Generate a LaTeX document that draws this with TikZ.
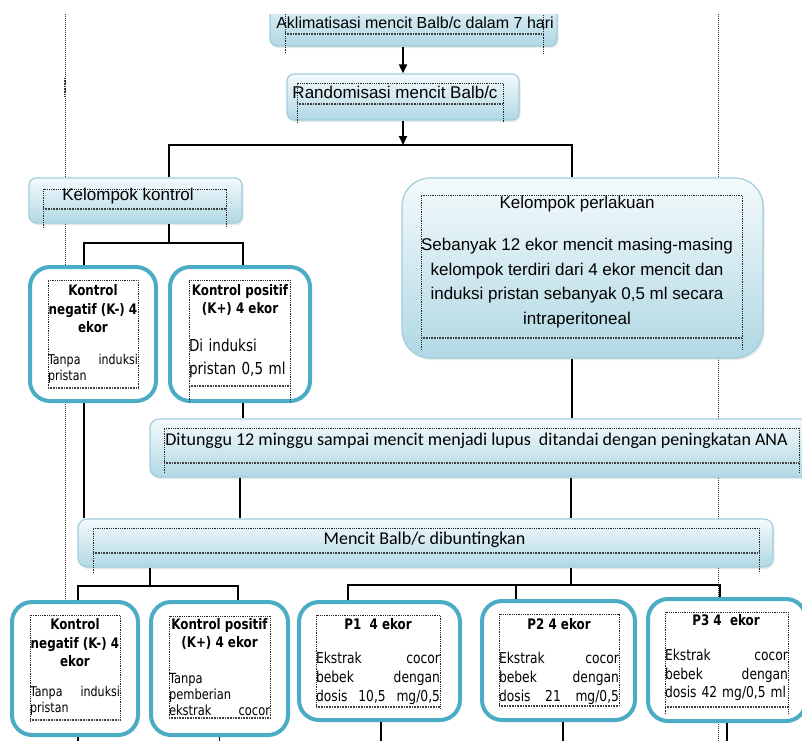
\documentclass[tikz,border=0pt]{standalone}
\usepackage{fontspec}
\setmainfont{Liberation Sans}
\newfontfamily\calfont{Carlito}
\newfontfamily\dvfont[FakeStretch=0.82]{DejaVu Sans}
\usetikzlibrary{arrows.meta,positioning,shadows}

\definecolor{gtop}{RGB}{244,250,252}
\definecolor{gbot}{RGB}{176,216,228}
\definecolor{gline}{RGB}{160,206,220}
\definecolor{wline}{RGB}{75,172,198}

\begin{document}
\begin{tikzpicture}[x=1pt, y=-1pt,
    gbox/.style={draw=gline, line width=1.2pt, rounded corners=7pt, top color=gtop, bottom color=gbot,
        drop shadow={opacity=0.18, shadow xshift=1.5pt, shadow yshift=-2pt}, inner sep=0pt},
    wbox/.style={draw=wline, line width=4pt, rounded corners=20pt, fill=white, inner sep=0pt},
    link/.style={line width=1.8pt, black},
    flow/.style={link, -{Triangle[length=9pt, width=8pt]}},
    guide/.style={line width=0.8pt, black!80, dash pattern=on 0.8pt off 1.2pt},
    frame/.style={line width=0.8pt, black!85, dash pattern=on 0.8pt off 1pt},
    wavy/.style={line width=1.8pt, black!75, dash pattern=on 0.8pt off 0.8pt},
    txt/.style={inner sep=0pt, align=center, text=black},
    head/.style={txt, font=\dvfont\bfseries\fontsize{14.5}{18.5}\selectfont},
    body/.style={txt, align=left, font=\dvfont\fontsize{14}{16}\selectfont}
]
\useasboundingbox (0,0) rectangle (802,740);
\clip (0,14) rectangle (802,745);

% page guides
\draw[guide] (65,14) -- (65,600);
\draw[guide] (718,14) -- (718,745);
\draw[line width=2pt, black!80, dash pattern=on 0.8pt off 0.8pt] (65,78) -- (65,96);

% boxes
\node[gbox, minimum width=287pt, minimum height=60pt] (aklim) at (413.5,16) {};
\node[gbox, minimum width=232pt, minimum height=46pt] (rand) at (403,97) {};
\node[gbox, minimum width=213pt, minimum height=45pt] (kontrol) at (135.5,200.5) {};
\node[gbox, minimum width=361pt, minimum height=180pt, rounded corners=28pt] (perlakuan) at (582.5,268) {};
\node[wbox, minimum width=126pt, minimum height=134pt] (kneg1) at (93,334) {};
\node[wbox, minimum width=140pt, minimum height=134pt] (kpos1) at (240,334) {};
\node[gbox, minimum width=662pt, minimum height=58pt, rounded corners=9pt] (tunggu) at (481,448) {};
\node[gbox, minimum width=695pt, minimum height=48pt, rounded corners=9pt] (bunting) at (425.5,543) {};
\node[wbox, minimum width=126pt, minimum height=133pt] (kneg2) at (75,668.5) {};
\node[wbox, minimum width=137pt, minimum height=133pt] (kpos2) at (219.5,668.5) {};
\node[wbox, minimum width=161pt, minimum height=118pt] (p1) at (379.5,661) {};
\node[wbox, minimum width=153pt, minimum height=119pt] (p2) at (558.5,660.5) {};
\node[wbox, minimum width=158pt, minimum height=122pt] (p3) at (727,660) {};

% connectors
\coordinate (s1) at (403,145);
\coordinate (s2) at (169,243);
\coordinate (s3) at (150,586);
\coordinate (s4) at (571,585);
\coordinate (bottom) at (0,745);
\draw[flow] (aklim.south -| rand.north) -- (rand.north);
\draw[flow] (rand.south) -- (s1);
\draw[link] ([xshift=33.5pt]kontrol.north) |- (s1) -| ([xshift=-10.5pt]perlakuan.north);
\draw[link] ([xshift=33.5pt]kontrol.south) -- (s2);
\draw[link] ([xshift=-9pt]kneg1.north) |- (s2) -| ([xshift=3pt]kpos1.north);
\draw[link] ([xshift=-9pt]kneg1.south) -- ([xshift=-9pt]kneg1.south |- bunting.north);
\draw[link] ([xshift=3pt]kpos1.south) -- ([xshift=3pt]kpos1.south |- tunggu.north);
\draw[link] ([xshift=-10.5pt]perlakuan.south) -- ([xshift=-10.5pt]perlakuan.south |- tunggu.north);
\draw[link] (tunggu.south -| kpos1.south) -- (bunting.north -| kpos1.south);
\draw[link] (tunggu.south -| s4) -- (bunting.north -| s4);
\draw[link] (bunting.south -| s3) -- (s3);
\draw[link] ([xshift=3pt]kneg2.north) |- (s3) -| ([xshift=18.5pt]kpos2.north);
\draw[link] (bunting.south -| s4) -- (s4);
\draw[link] ([xshift=-31.5pt]p1.north) |- (s4) -| ([xshift=-7pt]p3.north);
\draw[link] ([xshift=-42.5pt]p2.north) -- ([xshift=-42.5pt]p2.north |- s4);
\draw[link] ([xshift=3pt]kneg2.south) -- ([xshift=3pt]kneg2.south |- bottom);
\draw[link] (kpos2.south) -- (kpos2.south |- bottom);
\draw[link] ([xshift=1.5pt]p1.south) -- ([xshift=1.5pt]p1.south |- bottom);
\draw[link] ([xshift=4.5pt]p2.south) -- ([xshift=4.5pt]p2.south |- bottom);
\draw[link] (p3.south) -- (p3.south |- bottom);

% text frames
\foreach \xa/\ya/\xb/\yb/\yw in {285/10/543/53/34, 297/83/503/123/104, 43/189/226/228/209,
    48/280/138/388/388, 189/280/290/402/386, 421/195/742/350/338, 164/428/799/473/463,
    93/528/759/573/553, 30/615/120/722/720, 169/616/270/718/718, 316/615/440/708/707,
    499/614/619/707/706, 665/612/788/714/707}
{
    \draw[frame] (\xa,\yb) -- (\xa,\ya) -- (\xb,\ya) -- (\xb,\yb);
    \draw[wavy] (\xa,\yw) -- (\xb,\yw);
}

% texts
\node[txt, font=\fontsize{16}{19}\selectfont] (taklim) at (415,23) {Aklimatisasi mencit Balb/c dalam 7 hari};
\node[txt, font=\fontsize{17}{20}\selectfont] (trand) at (395,92) {Randomisasi mencit Balb/c};
\node[txt, font=\fontsize{17}{20}\selectfont] (tkontrol) at (128,196) {Kelompok kontrol};
\node[txt, font=\fontsize{17}{20}\selectfont] (tperlakuan) at (577,204) {Kelompok perlakuan};
\node[txt, font=\fontsize{17}{24.5}\selectfont] (tsebanyak) at (577,283) {Sebanyak 12 ekor mencit masing-masing\\kelompok terdiri dari 4 ekor mencit dan\\induksi pristan sebanyak 0,5 ml secara\\intraperitoneal};
\node[head] (hkneg1) at (93,309) {Kontrol\\negatif (K-) 4\\ekor};
\node[body, text width=90pt, font=\dvfont\fontsize{13.5}{16}\selectfont] (bkneg1) at (93,369) {Tanpa\hfill induksi\\pristan};
\node[head] (hkpos1) at (240,300) {Kontrol positif\\(K+) 4 ekor};
\node[body, text width=101pt, font=\dvfont\fontsize{16.5}{23}\selectfont] (bkpos1) at (239.5,358) {Di induksi\\pristan 0,5 ml};
\node[txt, font=\calfont\fontsize{18}{21}\selectfont] (ttunggu) at (476.5,441) {Ditunggu 12 minggu sampai mencit menjadi lupus\ \ ditandai dengan peningkatan ANA};
\node[txt, font=\calfont\fontsize{18}{21}\selectfont] (tbunting) at (424.5,540) {Mencit Balb/c dibuntingkan};
\node[head] (hkneg2) at (75,643) {Kontrol\\negatif (K-) 4\\ekor};
\node[body, text width=90pt, font=\dvfont\fontsize{13.5}{16}\selectfont] (bkneg2) at (75,701) {Tanpa\hfill induksi\\pristan};
\node[head] (hkpos2) at (219.5,634) {Kontrol positif\\(K+) 4 ekor};
\node[body, text width=101pt] (bkpos2) at (219.5,694) {Tanpa\\pemberian\\ekstrak\hfill cocor};
\node[head] (hp1) at (378,624) {P1\ \ 4 ekor};
\node[body, text width=124pt, font=\dvfont\fontsize{15}{19}\selectfont] (bp1) at (378,678) {Ekstrak\hfill cocor\\bebek\hfill dengan\\dosis\hfill 10,5\hfill mg/0,5};
\node[head] (hp2) at (559,624) {P2 4 ekor};
\node[body, text width=120pt, font=\dvfont\fontsize{15}{19}\selectfont] (bp2) at (559,678) {Ekstrak\hfill cocor\\bebek\hfill dengan\\dosis\hfill 21\hfill mg/0,5};
\node[head] (hp3) at (726,620) {P3 4\ \ ekor};
\node[body, text width=123pt, font=\dvfont\fontsize{15}{18.5}\selectfont] (bp3) at (726.5,675) {Ekstrak\hfill cocor\\bebek\hfill dengan\\dosis 42 mg/0,5 ml};
\end{tikzpicture}
\end{document}
